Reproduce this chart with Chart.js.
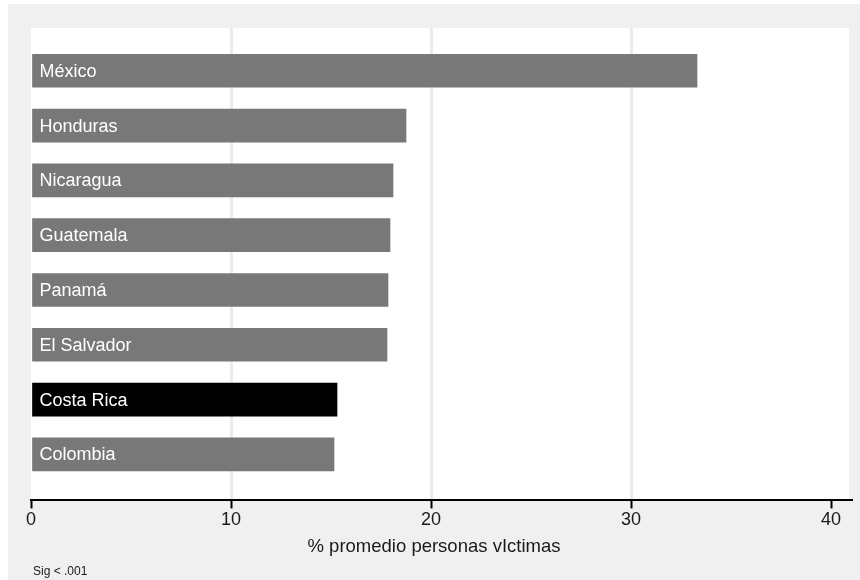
<!DOCTYPE html>
<html>
<head>
<meta charset="utf-8">
<title>% promedio personas víctimas</title>
<script src="https://cdn.jsdelivr.net/npm/chart.js@4.4.1/dist/chart.umd.min.js"></script>
<style>
    html, body { margin: 0; padding: 0; background: #ffffff; }
    canvas { display: block; }
</style>
</head>
<body>
<canvas id="chartVictimas" width="860" height="580"></canvas>
<script>
var paises = ['México', 'Honduras', 'Nicaragua', 'Guatemala', 'Panamá', 'El Salvador', 'Costa Rica', 'Colombia'];
var valores = [33.3, 18.75, 18.1, 17.95, 17.85, 17.8, 15.3, 15.15];
var ticksX = [0, 10, 20, 30, 40];
var resaltado = 'Costa Rica';
var nota = 'Sig < .001';
var tituloX = '% promedio personas vIctimas';

var fuente = '"Liberation Sans", Arial, Helvetica, sans-serif';

// fondo gris exterior + area blanca del grafico
var fondoPlugin = {
    id: 'fondo',
    beforeDraw: function (chart) {
        var ctx = chart.ctx;
        var area = chart.chartArea;
        ctx.save();
        ctx.fillStyle = '#ffffff';
        ctx.fillRect(0, 0, chart.width, chart.height);
        ctx.fillStyle = '#f0f0f0';
        ctx.fillRect(8, 4, chart.width - 8, chart.height - 4);
        ctx.fillStyle = '#ffffff';
        ctx.fillRect(area.left, area.top, area.right - area.left - 2, area.bottom - area.top);
        ctx.restore();
    },
    afterDraw: function (chart) {
        var ctx = chart.ctx;
        ctx.save();
        ctx.fillStyle = '#1a1a1a';
        ctx.textBaseline = 'middle';
        // titulo del eje x, centrado en todo el recuadro gris
        ctx.font = '18.5px ' + fuente;
        ctx.textAlign = 'center';
        ctx.fillText(tituloX, 434, 547);
        // nota de significancia
        ctx.font = '12px ' + fuente;
        ctx.textAlign = 'left';
        ctx.fillText(nota, 33, 572);
        ctx.restore();
    }
};

// nombre del pais dentro de cada barra
var etiquetasPlugin = {
    id: 'etiquetas',
    afterDatasetsDraw: function (chart) {
        var ctx = chart.ctx;
        var meta = chart.getDatasetMeta(0);
        ctx.save();
        ctx.fillStyle = '#ffffff';
        ctx.font = '18px ' + fuente;
        ctx.textBaseline = 'middle';
        meta.data.forEach(function (bar, i) {
            ctx.fillText(paises[i], bar.base + 7, bar.y + 1);
        });
        ctx.restore();
    }
};

function getChartVictimas() {
    var ctx = document.getElementById('chartVictimas').getContext('2d');

    var barColors = paises.map(function (p) {
        return p === resaltado ? '#000000' : '#787878';
    });

    var chartVictimas = new Chart(ctx, {
        type: 'bar',
        data: {
            labels: paises,
            datasets: [{
                data: valores.map(function (v, i) { return { x: v, y: i }; }),
                backgroundColor: barColors,
                borderWidth: 0,
                barThickness: 33
            }]
        },
        plugins: [fondoPlugin, etiquetasPlugin],
        options: {
            indexAxis: 'y',
            responsive: false,
            animation: false,
            devicePixelRatio: 1,
            layout: {
                padding: { left: 31, top: 28, right: 9, bottom: 48 }
            },
            plugins: {
                legend: { display: false },
                tooltip: { enabled: false }
            },
            scales: {
                y: {
                    type: 'linear',
                    reverse: true,
                    offset: false,
                    min: -0.78,
                    max: 7.84,
                    display: false
                },
                x: {
                    type: 'linear',
                    min: 0,
                    max: 41,
                    afterBuildTicks: function (scale) {
                        scale.ticks = ticksX.map(function (v) { return { value: v }; });
                    },
                    border: { display: true, color: '#000000', width: 2 },
                    grid: {
                        color: function (c) {
                            return (c.tick && c.tick.value > 0 && c.tick.value < 40) ? '#ebebeb' : 'rgba(0,0,0,0)';
                        },
                        lineWidth: 3,
                        tickLength: 8,
                        tickColor: '#000000',
                        tickWidth: 2
                    },
                    ticks: {
                        color: '#1a1a1a',
                        padding: 1,
                        font: { family: fuente, size: 18 },
                        maxRotation: 0
                    },
                    title: { display: false }
                }
            }
        }
    });
}

getChartVictimas();
</script>
</body>
</html>
